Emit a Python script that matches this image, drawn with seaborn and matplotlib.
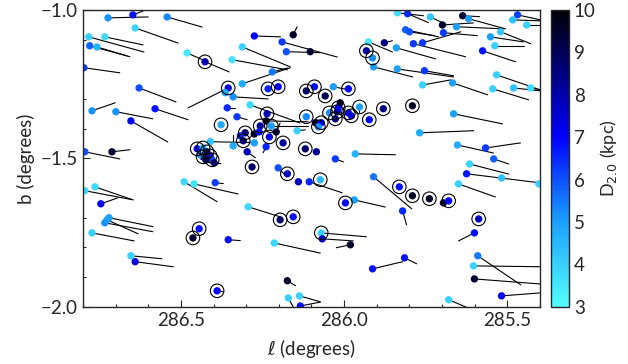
import matplotlib
matplotlib.use("Agg")
import matplotlib.pyplot as plt
import seaborn as sns
import pandas as pd
from matplotlib.colors import LinearSegmentedColormap, Normalize
from matplotlib.cm import ScalarMappable
from matplotlib.ticker import MultipleLocator, FormatStrFormatter

# galactic longitude / latitude of each star (degrees)
gl = [286.723, 286.647, 286.542, 286.782, 286.733, 286.779, 286.757, 286.640, 286.481, 286.426,
      286.343, 286.797, 286.628, 286.355, 286.364, 286.312, 286.340, 286.772, 286.699, 286.579,
      286.653, 286.358, 286.328, 286.288, 286.377, 286.233, 286.202, 286.220, 286.236, 286.239,
      286.257, 286.223, 286.208, 286.144, 286.275, 286.303, 286.260, 286.318, 286.309, 286.229,
      286.187, 286.275, 286.410, 286.340, 286.239, 286.297, 286.450,
      286.432, 286.420, 286.432, 286.410, 286.423, 286.404, 286.441, 286.398,
      286.282, 286.202, 286.174, 286.116, 286.091, 286.058, 286.033, 285.987, 286.012, 286.018,
      286.045, 286.021, 285.987, 285.978, 286.027, 285.953, 285.923, 285.880, 285.791, 286.116,
      286.088, 286.070, 286.079, 286.119, 286.085, 285.966, 286.027, 285.910, 285.837, 285.806,
      285.736, 285.637, 285.619, 285.699, 285.656, 285.812, 285.800, 285.696, 285.521, 285.552,
      285.469, 285.484, 285.441, 285.926, 285.877, 285.932, 285.913, 285.840, 285.788, 285.760,
      285.539, 285.576, 286.104, 285.910, 285.837, 285.754, 285.760, 285.668, 285.533, 285.545,
      285.481, 285.429, 285.665, 285.769, 285.653, 285.567, 285.542, 286.794, 286.711, 286.140,
      286.107, 286.073, 286.490, 286.460, 286.395, 286.763, 286.794, 286.745, 286.294, 286.196,
      286.156, 286.720, 286.733, 286.726, 286.772, 286.444, 286.463, 286.355, 286.214, 286.653,
      286.640, 286.389, 286.174, 286.171, 286.137, 286.134, 285.616, 285.625, 285.518, 285.404,
      285.650, 285.831, 285.969, 285.996, 285.791, 285.739, 285.696, 285.680, 285.821, 285.588,
      285.601, 286.070, 286.067, 285.981, 285.815, 285.913, 285.591, 285.604, 285.601, 285.518,
      285.680, 286.275, 286.156, 286.190, 286.177, 286.312]

gb = [-1.027, -1.017, -1.024, -1.091, -1.091, -1.121, -1.125, -1.061, -1.145, -1.175,
      -1.168, -1.195, -1.263, -1.263, -1.279, -1.249, -1.293, -1.340, -1.343, -1.333,
      -1.374, -1.330, -1.360, -1.320, -1.387, -1.266, -1.259, -1.209, -1.350, -1.374,
      -1.391, -1.391, -1.411, -1.407, -1.418, -1.414, -1.411, -1.424, -1.441, -1.428,
      -1.448, -1.448, -1.444, -1.458, -1.461, -1.478, -1.468,
      -1.465, -1.478, -1.495, -1.492, -1.505, -1.505, -1.488, -1.515,
      -1.529, -1.532, -1.552, -1.273, -1.259, -1.290, -1.259, -1.266, -1.313, -1.330,
      -1.347, -1.343, -1.347, -1.357, -1.367, -1.327, -1.370, -1.333, -1.323, -1.360,
      -1.380, -1.380, -1.394, -1.468, -1.478, -1.485, -1.502, -1.562, -1.010, -1.013,
      -1.024, -1.020, -1.030, -1.051, -1.057, -1.067, -1.074, -1.077, -1.074, -1.091,
      -1.017, -1.034, -1.051, -1.108, -1.111, -1.138, -1.162, -1.128, -1.114, -1.111,
      -1.121, -1.138, -1.141, -1.192, -1.199, -1.205, -1.253, -1.246, -1.219, -1.266,
      -1.263, -1.263, -1.350, -1.414, -1.455, -1.465, -1.502, -1.478, -1.478, -1.579,
      -1.579, -1.572, -1.579, -1.586, -1.582, -1.596, -1.609, -1.653, -1.663, -1.707,
      -1.697, -1.700, -1.717, -1.707, -1.751, -1.737, -1.768, -1.774, -1.785, -1.828,
      -1.848, -1.946, -1.912, -1.970, -1.963, -1.997, -1.519, -1.552, -1.566, -1.586,
      -1.586, -1.596, -1.640, -1.650, -1.626, -1.636, -1.650, -1.643, -1.677, -1.704,
      -1.751, -1.751, -1.771, -1.791, -1.835, -1.872, -1.828, -1.862, -1.906, -1.963,
      -1.976, -1.088, -1.084, -1.108, -1.141, -1.125]

# distance D_2.0 in kpc
dist = [5.2, 6.8, 5.3, 4.0, 3.8, 5.8, 4.6, 3.9, 3.5, 8.0,
        3.6, 6.2, 6.0, 7.5, 4.8, 4.8, 5.2, 5.2, 5.2, 6.8,
        7.2, 6.5, 6.3, 3.8, 4.8, 6.5, 7.0, 5.5, 8.0, 9.5,
        8.2, 5.0, 9.3, 4.0, 9.5, 8.8, 6.8, 6.5, 8.7, 7.2,
        8.2, 5.0, 4.3, 4.8, 6.5, 7.8, 7.0,
        4.5, 8.5, 9.0, 7.0, 8.5, 6.0, 5.0, 8.5,
        8.8, 6.0, 7.8, 8.8, 6.8, 9.0, 5.0, 7.0, 9.5, 6.8,
        5.2, 7.5, 7.2, 7.5, 8.5, 5.0, 7.2, 8.5, 9.6, 5.3,
        9.6, 7.0, 5.2, 8.8, 8.3, 4.6, 6.3, 5.5, 3.7, 6.5,
        4.2, 9.5, 5.0, 9.5, 5.0, 5.8, 6.0, 6.3, 4.2, 5.0,
        6.2, 4.3, 4.0, 3.5, 8.5, 8.2, 5.2, 5.0, 6.3, 6.3,
        4.0, 6.8, 9.5, 5.0, 5.0, 6.3, 4.0, 5.0, 4.0, 4.0,
        4.3, 3.8, 5.0, 4.8, 4.8, 6.3, 5.8, 6.0, 9.5, 7.8,
        6.5, 4.5, 3.8, 3.6, 6.2, 3.8, 3.8, 7.2, 3.8, 8.8,
        6.8, 5.0, 5.2, 5.0, 4.0, 6.8, 9.5, 6.8, 3.9, 4.0,
        7.5, 7.0, 9.5, 4.0, 4.0, 6.8, 3.9, 6.8, 4.3, 4.0,
        4.0, 6.8, 5.0, 7.0, 9.6, 9.6, 9.5, 7.0, 6.5, 7.8,
        6.8, 4.0, 7.8, 9.5, 6.8, 6.8, 5.5, 4.0, 9.5, 7.0,
        4.0, 7.0, 9.5, 6.3, 6.0, 4.0]

# proper-motion vector drawn from each star (degrees on the sky)
dl = [-0.123, -0.031, -0.107, -0.169, -0.117, -0.123, -0.092, -0.132, -0.049, -0.074,
      -0.169, -0.110, -0.113, 0.123, 0, -0.147, -0.107, -0.071, -0.113, -0.101,
      -0.113, -0.025, -0.031, -0.153, 0, 0, 0, -0.046, 0, -0.129,
      0, -0.113, -0.012, -0.025, 0, 0, 0, 0, 0, 0,
      0, 0, -0.135, 0, 0.009, -0.025, 0,
      0, 0, 0, 0, 0, 0, 0, -0.021,
      0, -0.021, 0, 0, 0, 0, -0.046, 0, 0, 0,
      0, 0, 0, 0, 0, 0, 0, 0, 0, 0,
      0, 0, 0, 0, 0, -0.123, -0.025, -0.117, -0.080, -0.064,
      -0.046, -0.052, -0.113, -0.095, -0.144, -0.101, -0.077, -0.104, -0.092, -0.101,
      -0.071, -0.086, -0.043, -0.074, -0.025, 0, 0, -0.120, -0.160, -0.117,
      -0.089, -0.101, -0.031, -0.120, -0.172, -0.089, -0.086, -0.107, -0.135, -0.110,
      -0.083, -0.031, -0.150, -0.166, -0.110, -0.107, -0.046, -0.107, -0.055, 0,
      -0.101, 0, -0.101, -0.135, -0.025, -0.117, -0.144, -0.052, -0.098, 0,
      0, -0.135, -0.147, -0.095, -0.129, 0, 0, -0.037, -0.141, -0.095,
      -0.117, -0.018, -0.025, -0.015, -0.064, -0.061, -0.120, -0.221, 0, 0,
      -0.113, 0, -0.095, 0, 0, 0, 0, 0, -0.012, 0,
      0.049, -0.138, -0.095, 0.043, -0.037, -0.092, -0.132, -0.206, -0.202, -0.120,
      -0.058, -0.080, -0.012, -0.169, -0.104, -0.147]

db = [0.003, 0.013, -0.034, -0.051, -0.027, -0.037, -0.030, -0.051, -0.024, -0.034,
      -0.034, -0.017, -0.047, -0.067, 0, 0.054, -0.007, 0.027, -0.024, -0.037,
      -0.071, 0, -0.010, -0.061, 0, 0, 0, 0.013, 0, -0.003,
      0, 0, 0.030, 0.003, 0, 0, 0, 0, 0, 0,
      0, 0, -0.003, 0.037, -0.020, -0.020, 0,
      0, 0, 0, 0, 0, 0, 0, -0.003,
      0, -0.024, 0, 0, 0, 0, -0.010, 0, 0, 0,
      0, 0, 0, 0, 0, -0.017, 0, 0, 0, 0,
      0, 0, 0, 0, 0, -0.003, -0.010, -0.108, -0.010, -0.030,
      -0.024, -0.003, -0.034, 0.007, -0.007, -0.024, -0.013, -0.010, -0.040, -0.017,
      -0.017, -0.003, 0, -0.034, 0.007, 0, 0, -0.037, -0.044, 0.037,
      0, -0.037, 0, -0.034, -0.027, -0.017, 0.017, -0.040, -0.051, -0.037,
      -0.010, -0.007, -0.034, 0.007, -0.027, 0.017, -0.017, -0.024, 0.007, 0,
      -0.037, 0, -0.067, -0.034, -0.003, -0.044, -0.030, 0.020, -0.034, 0,
      0, -0.030, -0.030, -0.047, -0.027, 0, 0, -0.003, -0.034, -0.010,
      -0.017, -0.003, -0.017, -0.030, -0.020, 0.013, -0.034, -0.030, 0, 0,
      -0.044, 0, -0.024, 0, 0, 0, 0, 0, -0.047, 0,
      -0.027, -0.013, -0.007, -0.010, -0.020, 0.024, -0.098, -0.003, -0.017, 0.010,
      -0.027, -0.003, 0.027, -0.051, -0.003, -0.067]

# 1 = star marked with an open circle
ringed = [0, 0, 0, 0, 0, 0, 0, 0, 0, 1,
          0, 0, 0, 1, 0, 0, 0, 0, 0, 0,
          0, 0, 0, 0, 1, 1, 1, 0, 1, 0,
          1, 1, 0, 0, 0, 1, 0, 0, 1, 1,
          1, 0, 0, 0, 0, 0, 1,
          1, 1, 1, 1, 0, 1, 0, 0,
          1, 0, 1, 1, 1, 1, 0, 1, 0, 1,
          1, 1, 1, 1, 1, 1, 1, 1, 1, 1,
          0, 1, 1, 1, 0, 0, 0, 0, 0, 0,
          0, 0, 0, 0, 0, 0, 0, 0, 0, 0,
          0, 0, 0, 0, 0, 1, 1, 0, 0, 0,
          0, 0, 0, 0, 0, 0, 0, 0, 0, 0,
          0, 0, 0, 0, 0, 0, 0, 0, 0, 0,
          0, 1, 0, 0, 0, 0, 0, 0, 0, 1,
          1, 0, 0, 0, 0, 1, 1, 0, 0, 0,
          0, 1, 0, 0, 0, 0, 0, 0, 0, 0,
          0, 1, 0, 1, 1, 1, 0, 1, 0, 1,
          0, 1, 0, 0, 0, 0, 0, 0, 0, 0,
          0, 0, 0, 0, 0, 0]

df = pd.DataFrame({"l": gl, "b": gb, "D": dist, "dl": dl, "db": db, "ring": ringed})

sns.set_style("ticks")
plt.rcParams["font.family"] = ["Lato", "DejaVu Sans"]
plt.rcParams["font.size"] = 13
plt.rcParams["axes.linewidth"] = 1.0

cmap = LinearSegmentedColormap.from_list(
    "dist", [(0.0, (0.33, 1.0, 1.0)), (0.29, (0.1, 0.62, 1.0)),
             (0.57, (0.0, 0.0, 1.0)), (1.0, (0.0, 0.0, 0.02))])
norm = Normalize(3, 10)

fig = plt.figure(figsize=(6.28, 3.64), dpi=100)
ax = fig.add_axes([0.132, 0.157, 0.728, 0.816])
cax = fig.add_axes([0.877, 0.157, 0.029, 0.816])

# vectors
for _, r in df.iterrows():
    if r.dl != 0 or r.db != 0:
        ax.plot([r.l, r.l + r.dl], [r.b, r.b + r.db], color="black", lw=0.8, zorder=1)

sns.scatterplot(data=df, x="l", y="b", hue="D", palette=cmap, hue_norm=(3, 10),
                s=28, linewidth=0, legend=False, ax=ax, zorder=2)

rings = df[df.ring == 1]
ax.scatter(rings.l, rings.b, s=95, facecolors="none", edgecolors="black",
           linewidths=0.8, zorder=3)

ax.set_xlim(286.8, 285.4)
ax.set_ylim(-2.0, -1.0)
ax.set_xticks([286.5, 286.0, 285.5])
ax.xaxis.set_major_formatter(FormatStrFormatter("%.1f"))
ax.set_yticks([-2.0, -1.5, -1.0])
ax.xaxis.set_minor_locator(MultipleLocator(0.1))
ax.yaxis.set_minor_locator(MultipleLocator(0.1))
ax.tick_params(which="both", direction="in", top=False, right=False)
ax.tick_params(which="major", length=5, width=0.8, labelsize=13.5)
ax.tick_params(which="minor", length=2.5, width=0.8)
ax.set_xlabel(r"$\ell$ (degrees)", fontsize=13.5, labelpad=6)
ax.set_ylabel("b (degrees)", fontsize=13.5)

cb = fig.colorbar(ScalarMappable(norm=norm, cmap=cmap), cax=cax)
cb.set_ticks(range(3, 11))
cb.ax.tick_params(direction="in", length=3, labelsize=13.5)
cb.outline.set_linewidth(1.0)
cb.set_label(r"D$_{2.0}$ (kpc)", fontsize=13, labelpad=2)

fig.savefig("out.png", dpi=100)
